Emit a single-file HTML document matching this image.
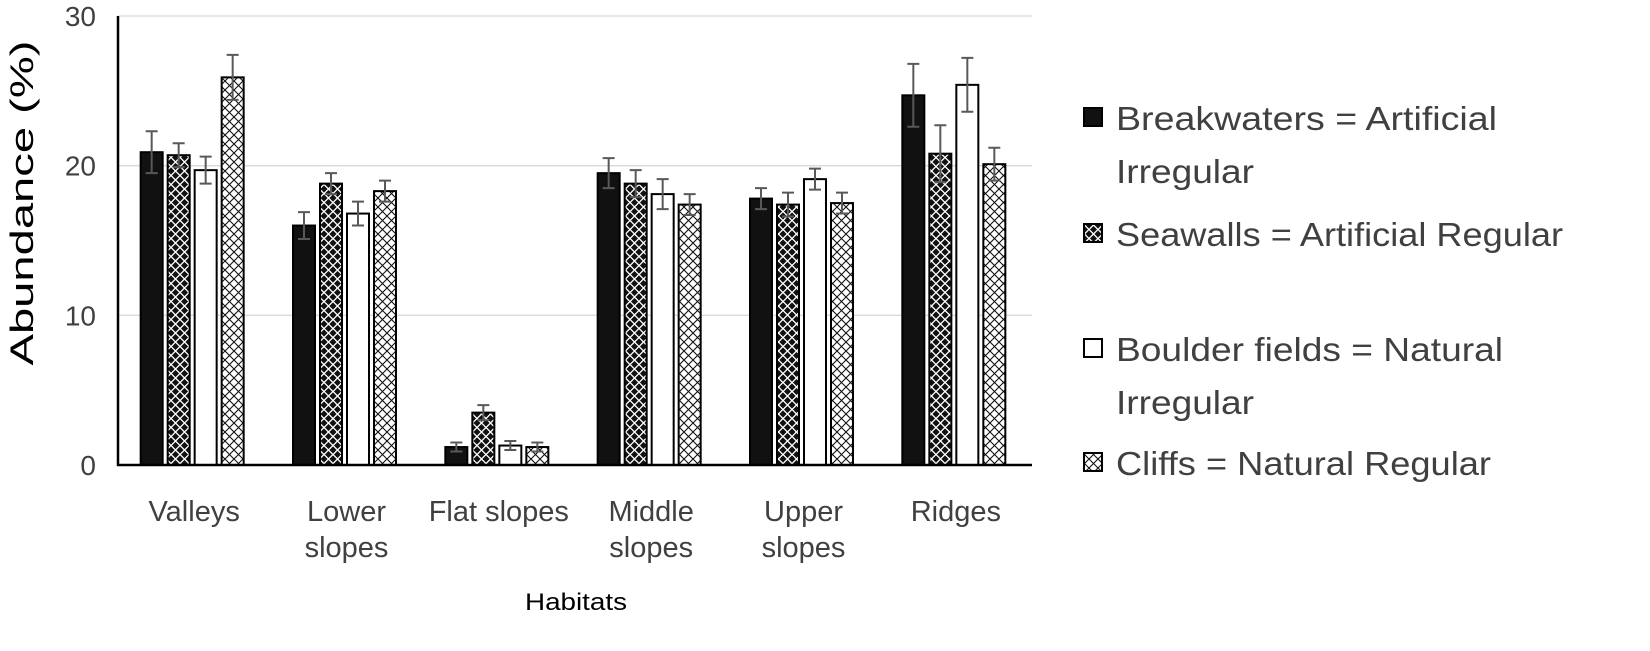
<!DOCTYPE html>
<html><head><meta charset="utf-8"><style>
body{margin:0;background:#fff;}
svg text{font-family:"Liberation Sans","DejaVu Sans",sans-serif;fill:#404040;}
</style></head><body>
<svg id="chart" width="1650" height="646" viewBox="0 0 1650 646">
<defs>
<pattern id="pSea" width="9" height="9" patternUnits="userSpaceOnUse">
<rect width="9" height="9" fill="#111"/>
<path d="M0,4.5 L4.5,0 L9,4.5 L4.5,9 Z" fill="none" stroke="#fff" stroke-width="1.3"/>
</pattern>
<pattern id="pCliff" width="9" height="9" patternUnits="userSpaceOnUse">
<rect width="9" height="9" fill="#fff"/>
<path d="M0,0 L9,9 M9,0 L0,9" stroke="#111" stroke-width="1.1"/>
</pattern>
</defs>
<g id="grid"></g>
<g id="bars"></g>
<g id="axes"></g>
<g id="legend"></g>
</svg>
<script>
const categories=[["Valleys"],["Lower","slopes"],["Flat slopes"],["Middle","slopes"],["Upper","slopes"],["Ridges"]];
const breakwaters=[20.9,16.0,1.2,19.5,17.8,24.7];
const breakwatersErr=[1.4,0.9,0.3,1.0,0.7,2.1];
const seawalls=[20.7,18.8,3.5,18.8,17.4,20.8];
const seawallsErr=[0.8,0.7,0.5,0.9,0.8,1.9];
const boulders=[19.7,16.8,1.3,18.1,19.1,25.4];
const bouldersErr=[0.9,0.8,0.3,1.0,0.7,1.8];
const cliffs=[25.9,18.3,1.2,17.4,17.5,20.1];
const cliffsErr=[1.5,0.7,0.3,0.7,0.7,1.1];
const yTicks=[0,10,20,30];
const seriesNames=["Breakwaters = Artificial|Irregular","Seawalls = Artificial Regular","Boulder fields = Natural|Irregular","Cliffs = Natural Regular"];

const NS="http://www.w3.org/2000/svg";
function el(t,a,p){const e=document.createElementNS(NS,t);for(const k in a)e.setAttribute(k,a[k]);p.appendChild(e);return e;}
function fit(t,len){t.setAttribute('textLength',len);t.setAttribute('lengthAdjust','spacingAndGlyphs');}
const x0=118,x1=1032,y0=465,yTop=16;
const y=v=>y0-(v/30)*(y0-yTop);
const band=(x1-x0)/categories.length;
const xc=i=>x0+band*(i+0.5)+(-2);
const grid=document.getElementById('grid'),bars=document.getElementById('bars'),axes=document.getElementById('axes'),leg=document.getElementById('legend');
yTicks.forEach(t=>{
 if(t>0){const g=el('line',{x1:x0,x2:x1,y1:y(t),y2:y(t),stroke:'#d9d9d9','stroke-width':1.3},grid);
 }
 const tx=el('text',{x:96,y:y(t)+10,'font-size':28,'text-anchor':'end'},axes);tx.textContent=t;
 
});
const series=[[breakwaters,breakwatersErr,'#111'],[seawalls,seawallsErr,'url(#pSea)'],[boulders,bouldersErr,'#fff'],[cliffs,cliffsErr,'url(#pCliff)']];
const bw=22,gap=5;
categories.forEach((c,i)=>{
 series.forEach((s,j)=>{
  const bx=xc(i)-(4*bw+3*gap)/2+j*(bw+gap);
  const v=s[0][i],e=s[1][i];
  const r=el('rect',{x:bx,y:y(v),width:bw,height:y0-y(v),fill:s[2],stroke:'#000','stroke-width':2},bars);
  
  const cx=bx+bw/2;
  const eb=el('path',{d:`M${cx},${y(v+e)}V${y(v-e)}M${cx-6},${y(v+e)}H${cx+6}M${cx-6},${y(v-e)}H${cx+6}`,stroke:'#595959','stroke-width':2,fill:'none'},bars);
  
 });
 c.forEach((line,k)=>{
  const t=el('text',{x:xc(i)+2,y:521+k*36,'font-size':29,'text-anchor':'middle'},axes);t.textContent=line;
  
 });
});
const ax=el('path',{d:`M${x0},${yTop}V${y0}H${x1}`,stroke:'#000','stroke-width':2.5,fill:'none'},axes);

const yt=el('text',{x:0,y:0,'font-size':32,'text-anchor':'middle',transform:'translate(33,203) rotate(-90)'},axes);
yt.textContent='Abundance (%)';yt.style.fill='#000';fit(yt,325);

const xt=el('text',{x:525,y:610,'font-size':24},axes);xt.textContent='Habitats';xt.style.fill='#000';fit(xt,102);

const legY=[118,234,349,463];
const legW=[[381,138],[447],[387,138],[375]];
const legFill=['#111','url(#pSea)','#fff','url(#pCliff)'];
seriesNames.forEach((n,j)=>{
 const g=el('g',{},leg);
 
 el('rect',{x:1084,y:legY[j]-10,width:18,height:18,fill:legFill[j],stroke:'#000','stroke-width':2},g);
 n.split('|').forEach((line,k)=>{
  const t=el('text',{x:1116,y:legY[j]+12+k*53,'font-size':33},g);t.textContent=line;fit(t,legW[j][k]);
 });
});
</script>
</body></html>
